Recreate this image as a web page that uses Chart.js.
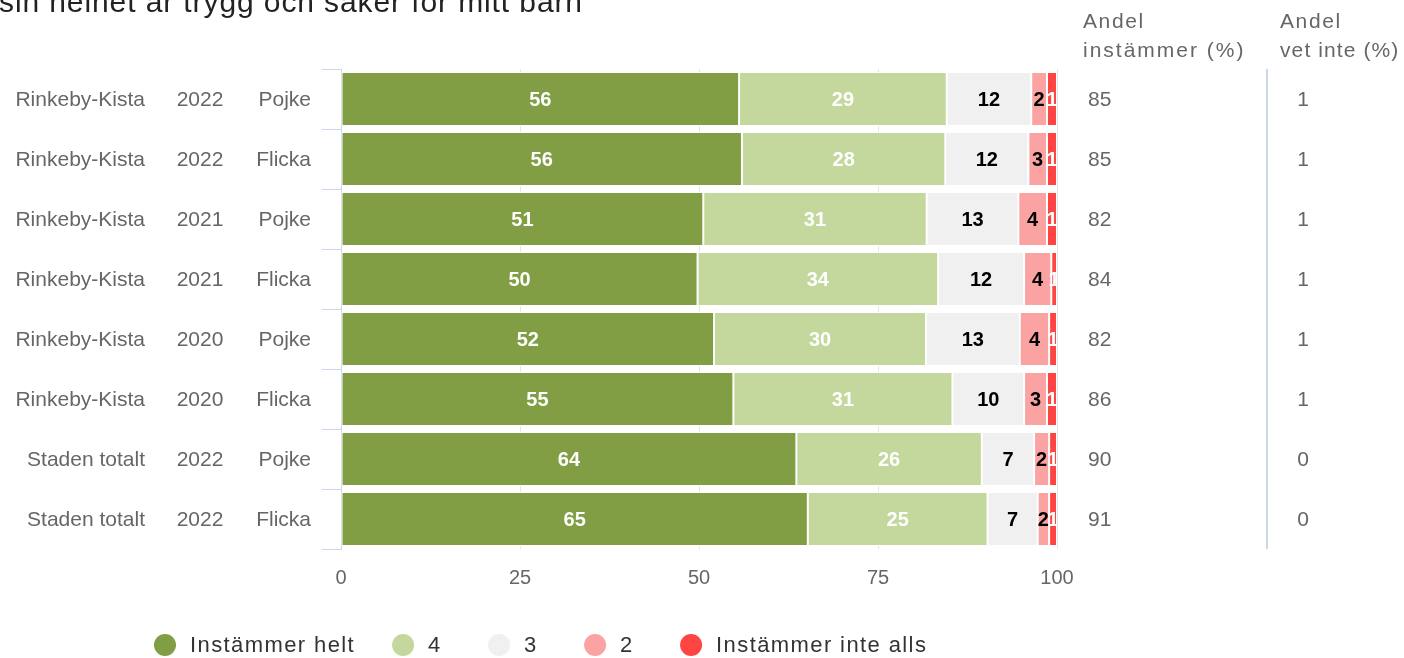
<!DOCTYPE html>
<html>
<head>
<meta charset="utf-8">
<script src="https://cdn.jsdelivr.net/npm/chart.js@4.4.1/dist/chart.umd.min.js"></script>
<style>
  html, body { margin: 0; padding: 0; background: #fff; }
  #wrap { position: relative; width: 1404px; height: 658px; }
</style>
</head>
<body>
<div id="wrap"><canvas id="chart-canvas"></canvas></div>
<script>
// --- data ---
const TITLE_TAIL = 'sin helhet är trygg och säker för mitt barn';
const GROUPS = ['Rinkeby-Kista','Rinkeby-Kista','Rinkeby-Kista','Rinkeby-Kista','Rinkeby-Kista','Rinkeby-Kista','Staden totalt','Staden totalt'];
const YEARS = ['2022','2022','2021','2021','2020','2020','2022','2022'];
const GENDERS = ['Pojke','Flicka','Pojke','Flicka','Pojke','Flicka','Pojke','Flicka'];
const SERIES_NAMES = ['Instämmer helt','4','3','2','Instämmer inte alls'];
const HELT = [55.6, 56.0, 50.6, 49.8, 52.1, 54.8, 63.6, 65.2];
const FYRA = [29.0, 28.4, 31.2, 33.6, 29.6, 30.6, 25.9, 25.1];
const TRE  = [11.8, 11.6, 12.8, 12.0, 13.1, 10.0, 7.3, 7.0];
const TVA  = [2.2, 2.6, 4.0, 3.8, 4.1, 3.2, 2.1, 1.6];
const INTE = [1.4, 1.4, 1.4, 0.8, 1.1, 1.4, 1.1, 1.1];
const ANDEL_INSTAMMER = [85, 85, 82, 84, 82, 86, 90, 91];
const ANDEL_VET_INTE = [1, 1, 1, 1, 1, 1, 0, 0];
const X_TICKS = [0, 25, 50, 75, 100];

const COLORS = ['#829e44', '#c4d79c', '#f0f0f0', '#fba3a3', '#ff4444'];
const LABEL_COLORS = ['#ffffff', '#ffffff', '#000000', '#000000', '#ffffff'];
const FONT = '"Liberation Sans", Arial, sans-serif';
const GREY = '#666666';

Chart.defaults.font.family = FONT;

const rowKeys = GROUPS.map((g, i) => g + ' ' + YEARS[i] + ' ' + GENDERS[i]);
const seriesData = [HELT, FYRA, TRE, TVA, INTE];

// setting ctx.font resets letterSpacing, so spacing is always set after the font
const extrasPlugin = {
    id: 'extras',
    afterDatasetsDraw(chart) {
        const ctx = chart.ctx, area = chart.chartArea;
        ctx.save();
        ctx.beginPath(); ctx.rect(area.left, area.top, area.right - area.left, area.bottom - area.top); ctx.clip();
        ctx.font = 'bold 20px ' + FONT; ctx.textAlign = 'center'; ctx.textBaseline = 'middle';
        chart.data.datasets.forEach((ds, di) => {
            const meta = chart.getDatasetMeta(di);
            meta.data.forEach((bar, i) => {
                const v = ds.data[i]; if (!v) return;
                ctx.fillStyle = LABEL_COLORS[di];
                ctx.fillText(String(Math.round(v)), (bar.x + bar.base) / 2, bar.y + 1);
            });
        });
        ctx.restore();
    },
    afterDraw(chart) {
        const ctx = chart.ctx, area = chart.chartArea, y = chart.scales.y;
        ctx.save();
        // title, only its last line shows at the top edge
        ctx.fillStyle = '#222222'; ctx.font = '30px ' + FONT; ctx.letterSpacing = '0.9px';
        ctx.textAlign = 'left'; ctx.textBaseline = 'alphabetic';
        ctx.fillText(TITLE_TAIL, -1, 12);

        // category columns and right-hand value columns
        ctx.fillStyle = GREY; ctx.font = '21px ' + FONT; ctx.letterSpacing = '0px'; ctx.textBaseline = 'middle';
        rowKeys.forEach((k, i) => {
            const py = y.getPixelForValue(i) + 1;
            ctx.textAlign = 'right'; ctx.fillText(GROUPS[i], 145, py);
            ctx.textAlign = 'center'; ctx.fillText(YEARS[i], 200, py);
            ctx.textAlign = 'right'; ctx.fillText(GENDERS[i], 311, py);
            ctx.textAlign = 'left'; ctx.fillText(String(ANDEL_INSTAMMER[i]), 1088, py);
            ctx.textAlign = 'center'; ctx.fillText(String(ANDEL_VET_INTE[i]), 1303, py);
        });

        ctx.textAlign = 'left';
        ctx.font = '21px ' + FONT; ctx.letterSpacing = '1.6px';
        ctx.fillText('Andel', 1083, 22); ctx.fillText('Andel', 1280, 22);
        ctx.font = '21px ' + FONT; ctx.letterSpacing = '2px';
        ctx.fillText('instämmer (%)', 1083, 51);
        ctx.font = '21px ' + FONT; ctx.letterSpacing = '1.1px';
        ctx.fillText('vet inte (%)', 1280, 51);

        ctx.strokeStyle = '#ccd6eb'; ctx.lineWidth = 2;
        ctx.beginPath(); ctx.moveTo(1267, area.top); ctx.lineTo(1267, area.bottom); ctx.stroke();

        // legend
        ctx.font = '22px ' + FONT; ctx.letterSpacing = '1.4px'; ctx.textAlign = 'left'; ctx.textBaseline = 'middle';
        let lx = 154; const ly = 645;
        chart.data.datasets.forEach(ds => {
            ctx.fillStyle = ds.backgroundColor;
            ctx.beginPath(); ctx.arc(lx + 11, ly, 11, 0, Math.PI * 2); ctx.fill();
            ctx.fillStyle = '#333333';
            ctx.fillText(ds.label, lx + 36, ly + 1);
            lx += 36 + Math.max(ctx.measureText(ds.label).width, 23) + 37;
        });
        ctx.restore();
    }
};

const chart = new Chart(document.getElementById('chart-canvas'), {
    type: 'bar',
    data: {
        labels: rowKeys,
        datasets: SERIES_NAMES.map((name, i) => ({
            label: name, data: seriesData[i], backgroundColor: COLORS[i],
            borderColor: '#ffffff', borderWidth: 1, borderSkipped: false,
            barPercentage: 0.9, categoryPercentage: 1
        }))
    },
    options: {
        indexAxis: 'y', responsive: true, maintainAspectRatio: false, animation: false, devicePixelRatio: 1,
        layout: { padding: { top: 69, left: 0, right: 347, bottom: 63 } },
        scales: {
            x: {
                stacked: true, min: 0, max: 100,
                afterBuildTicks: s => { s.ticks = X_TICKS.map(v => ({ value: v })); },
                afterFit: s => { s.height = 46; },
                ticks: { color: GREY, font: { size: 20 }, padding: 17 },
                grid: { color: '#e6e6e6', drawTicks: false },
                border: { display: false }
            },
            y: {
                stacked: true,
                afterFit: s => { s.width = 341; },
                ticks: { display: false },
                grid: { offset: true, drawOnChartArea: false, drawTicks: true, tickLength: 19, color: '#ccd6eb' },
                border: { color: '#ccd6eb' }
            }
        },
        plugins: {
            tooltip: { enabled: false },
            legend: { display: false }
        }
    },
    plugins: [extrasPlugin]
});
</script>
</body>
</html>
